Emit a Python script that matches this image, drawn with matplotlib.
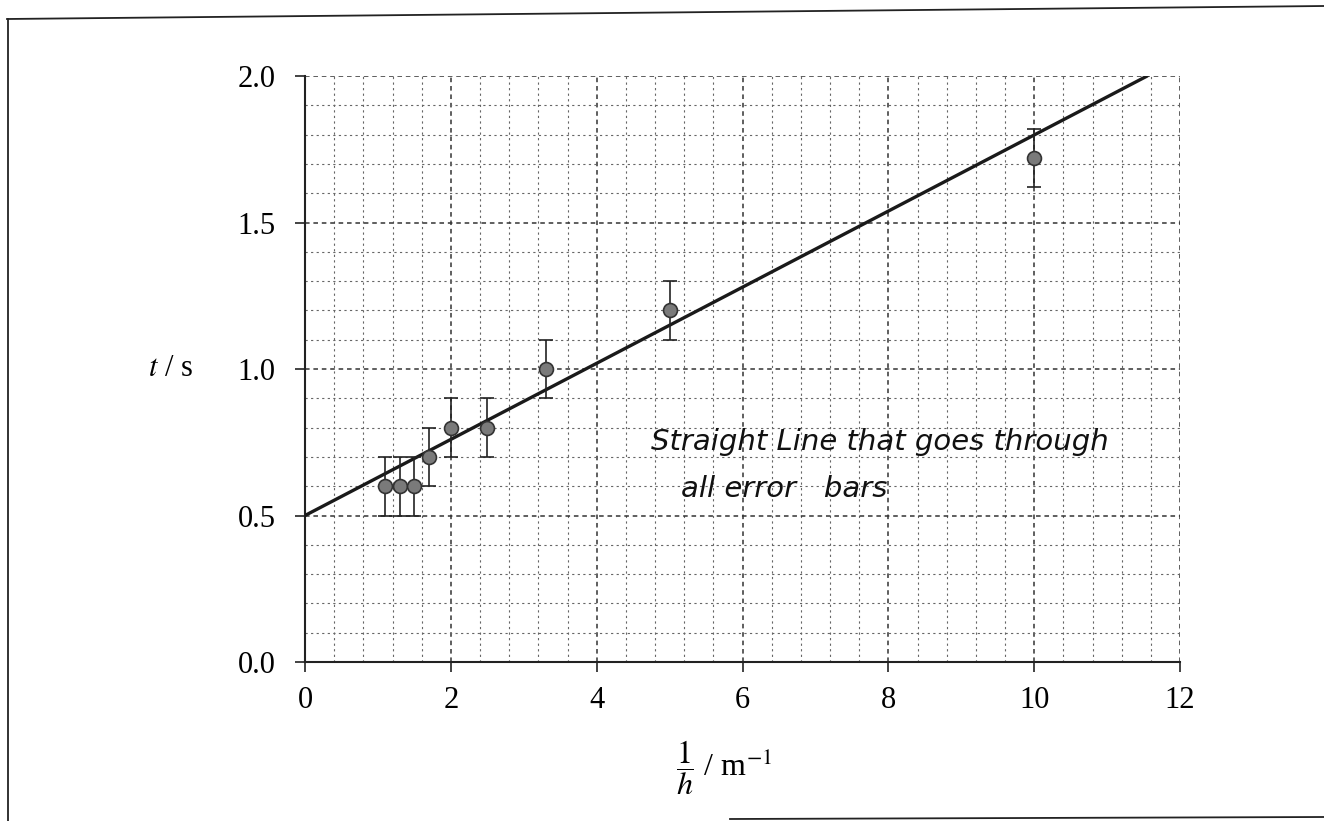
import matplotlib
matplotlib.use("Agg")
import matplotlib.pyplot as plt
import matplotlib.ticker as mticker
from matplotlib.lines import Line2D

# readings: 1/h (m^-1) against t (s), each with a +/-0.1 s error bar
inv_h = [1.1, 1.3, 1.5, 1.7, 2.0, 2.5, 3.3, 5.0, 10.0]
t_s = [0.6, 0.6, 0.6, 0.7, 0.8, 0.8, 1.0, 1.2, 1.72]
t_err = [0.1, 0.1, 0.1, 0.1, 0.1, 0.1, 0.1, 0.1, 0.1]

# hand-drawn best fit line
fit_x = [0.0, 11.55]
fit_y = [0.5, 2.0]

x_ticks = [0, 2, 4, 6, 8, 10, 12]
y_ticks = [0.0, 0.5, 1.0, 1.5, 2.0]

note_lines = ["Straight Line that goes through", "all error   bars"]

plt.rcParams["font.family"] = ["Liberation Serif", "DejaVu Serif"]
plt.rcParams["mathtext.fontset"] = "stix"

fig = plt.figure(figsize=(13.24, 8.21), dpi=100)
fig.patch.set_facecolor("white")
ax = fig.add_axes([305 / 1324, 159 / 821, 875 / 1324, 586 / 821])

ax.set_xlim(0, 12)
ax.set_ylim(0, 2.0)
ax.xaxis.set_major_locator(mticker.FixedLocator(x_ticks))
ax.yaxis.set_major_locator(mticker.FixedLocator(y_ticks))
ax.xaxis.set_minor_locator(mticker.MultipleLocator(0.4))
ax.yaxis.set_minor_locator(mticker.MultipleLocator(0.1))
ax.xaxis.set_major_formatter(mticker.FuncFormatter(lambda v, _p: f"{v:.0f}"))
ax.yaxis.set_major_formatter(mticker.FuncFormatter(lambda v, _p: f"{v:.1f}"))

ax.grid(True, which="minor", color="#666666", linewidth=0.8,
        linestyle=(0, (2, 3)))
ax.grid(True, which="major", color="#333333", linewidth=1.1,
        linestyle=(0, (3, 2.5)))
ax.set_axisbelow(True)

for side in ("top", "right"):
    ax.spines[side].set_visible(False)
for side in ("left", "bottom"):
    ax.spines[side].set_linewidth(1.5)
    ax.spines[side].set_color("#222222")

ax.tick_params(which="major", direction="out", length=7, width=1.2,
               labelsize=22, color="#222222")
ax.tick_params(axis="y", which="major", pad=14)
ax.tick_params(axis="x", which="major", pad=10)
ax.tick_params(which="minor", length=0)

ax.plot(fit_x, fit_y, color="#1a1a1a", linewidth=2.4, solid_capstyle="round",
        zorder=3)
ax.errorbar(inv_h, t_s, yerr=t_err, fmt="o", markersize=10,
            markerfacecolor="#7a7a7a", markeredgecolor="#333333",
            markeredgewidth=1.2, ecolor="#222222", elinewidth=1.2,
            capsize=5, capthick=1.2, zorder=4)

# axis labels placed like the printed sheet
fig.text(148 / 1324, 1 - 368 / 821, r"$t$ / s", fontsize=22,
         ha="left", va="center")
fig.text(676 / 1324, 1 - 768 / 821, r"$\dfrac{1}{h}$ / m$^{-1}$", fontsize=23,
         ha="left", va="center")

# handwritten note
ax.text(4.75, 0.75, note_lines[0], fontsize=21, family="DejaVu Sans",
        style="italic", weight="normal", color="#111111", ha="left",
        va="center", zorder=5)
ax.text(5.15, 0.59, note_lines[1], fontsize=21, family="DejaVu Sans",
        style="italic", weight="normal", color="#111111", ha="left",
        va="center", zorder=5)

# scanned page edges
page = dict(color="#222222", linewidth=1.3, transform=fig.transFigure)
fig.add_artist(Line2D([7 / 1324, 1.0], [1 - 19 / 821, 1 - 6 / 821], **page))
fig.add_artist(Line2D([8 / 1324, 8 / 1324], [1 - 19 / 821, 0.0], **page))
fig.add_artist(Line2D([730 / 1324, 1.0], [1 - 819 / 821, 1 - 817 / 821], **page))

fig.savefig("out.png", dpi=100, facecolor="white")
